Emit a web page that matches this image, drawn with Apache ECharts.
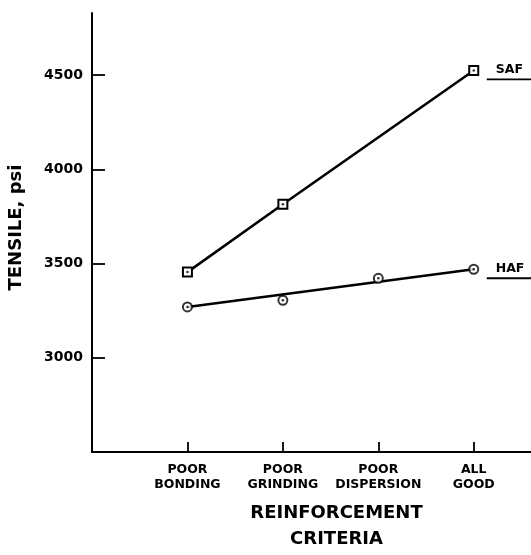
<!DOCTYPE html>
<html>
<head>
<meta charset="utf-8">
<script src="https://cdn.jsdelivr.net/npm/echarts@6/dist/echarts.min.js"></script>
<style>html,body{margin:0;padding:0;background:#fff}#c{width:531px;height:555px}</style>
</head>
<body>
<div id="c"></div>
<script>
const categories = ['POOR\nBONDING', 'POOR\nGRINDING', 'POOR\nDISPERSION', 'ALL\nGOOD'];
const safPositions = [1, 2, 4];
const safValues = [3455, 3815, 4525];
const hafPositions = [1, 2, 3, 4];
const hafValues = [3270, 3305, 3422, 3470];
const hafFitPositions = [1, 4];
const hafFitValues = [3270, 3470];
const yTickLabels = [3000, 3500, 4000, 4500];
const xTickPositions = [1, 2, 3, 4];

const FONT = 'DejaVu Sans';
const pair = (xs, ys) => xs.map((x, i) => [x, ys[i]]);

const chart = echarts.init(document.getElementById('c'), null, {renderer: 'canvas'});
const markerStyle = {color: '#fff', borderColor: '#000', borderWidth: 2};
const option = {
  animation: false,
  backgroundColor: '#fff',
  grid: {left: 92, right: 0, top: 13, bottom: 103, containLabel: false, outerBoundsMode: 'none'},
  xAxis: {
    type: 'value', min: 0, max: 4.6, interval: 1,
    splitLine: {show: false},
    axisLine: {lineStyle: {color: '#000', width: 2}},
    axisTick: {inside: true, length: 10, customValues: xTickPositions, lineStyle: {color: '#000', width: 1.8}},
    axisLabel: {
      color: '#000', fontFamily: FONT, fontWeight: 'bold', fontSize: 12.5, lineHeight: 15, margin: 10,
      customValues: xTickPositions,
      formatter: v => categories[Math.round(v) - 1] || ''
    },
    name: 'REINFORCEMENT\nCRITERIA', nameLocation: 'middle', nameGap: 48,
    nameTextStyle: {color: '#000', fontFamily: FONT, fontWeight: 'bold', fontSize: 18, lineHeight: 26, padding: [0, 0, 0, 50]}
  },
  yAxis: {
    type: 'value', min: 2500, max: 4830, interval: 500,
    splitLine: {show: false},
    axisLine: {lineStyle: {color: '#000', width: 2}},
    axisTick: {inside: true, length: 13, customValues: yTickLabels, lineStyle: {color: '#000', width: 1.8}},
    axisLabel: {
      color: '#000', fontFamily: FONT, fontWeight: 'bold', fontSize: 14, margin: 9,
      customValues: yTickLabels,
      formatter: v => String(v)
    },
    name: 'TENSILE, psi', nameLocation: 'middle', nameGap: 67, nameRotate: 90,
    nameTextStyle: {color: '#000', fontFamily: FONT, fontWeight: 'bold', fontSize: 18, padding: [0, 0, 0, 10]}
  },
  series: [
    {type: 'line', data: pair(safPositions, safValues), symbol: 'rect', symbolSize: 9,
     itemStyle: markerStyle, lineStyle: {color: '#000', width: 2.6}, z: 2},
    {type: 'scatter', data: pair(safPositions, safValues), symbol: 'circle', symbolSize: 2.5,
     itemStyle: {color: '#000'}, z: 4},
    {type: 'line', data: pair(hafFitPositions, hafFitValues), showSymbol: false, symbol: 'none',
     lineStyle: {color: '#000', width: 2.6}, z: 2},
    {type: 'scatter', data: pair(hafPositions, hafValues), symbol: 'circle', symbolSize: 9,
     itemStyle: markerStyle, z: 3},
    {type: 'scatter', data: pair(hafPositions, hafValues), symbol: 'circle', symbolSize: 2.5,
     itemStyle: {color: '#000'}, z: 4}
  ]
};
chart.setOption(option);

function seriesTag(text, x, y) {
  const p = chart.convertToPixel({gridIndex: 0}, [x, y]);
  return [
    {type: 'text', left: p[0] + 22, top: p[1] - 7,
     style: {text: text, fill: '#000', font: 'bold 12.5px "DejaVu Sans"'}},
    {type: 'line', shape: {x1: p[0] + 13, y1: p[1] + 9, x2: 531, y2: p[1] + 9},
     style: {stroke: '#000', lineWidth: 1.8}}
  ];
}
chart.setOption({
  graphic: [].concat(
    seriesTag('SAF', safPositions[2], safValues[2]),
    seriesTag('HAF', hafPositions[3], hafValues[3])
  )
});
</script>
</body>
</html>
